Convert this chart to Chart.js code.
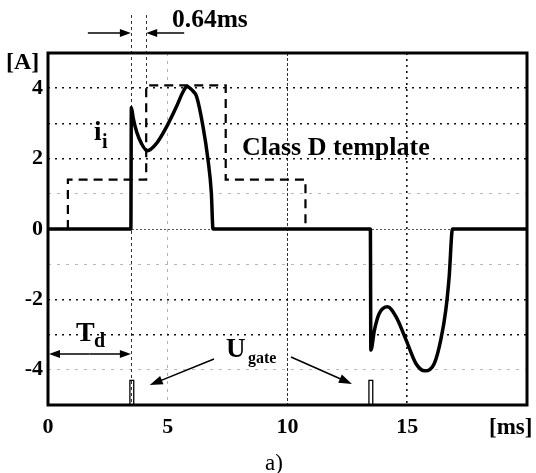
<!DOCTYPE html>
<html>
<head>
<meta charset="utf-8">
<script src="https://cdn.jsdelivr.net/npm/chart.js@4.4.1/dist/chart.umd.min.js"></script>
<style>
  html, body { margin: 0; padding: 0; background: #fff; }
  canvas { display: block; }
</style>
</head>
<body>
<canvas id="c" width="536" height="473"></canvas>
<script>
// Load current i_i [A] versus time [ms]
const currentTime  = [0, 3.46, 3.48, 3.56, 3.70, 3.90, 4.15, 4.53, 4.95, 5.36, 5.64, 5.80, 6.05, 6.20, 6.47, 6.68, 6.82, 6.89,
                      13.46, 13.48, 13.63, 13.83, 14.18, 14.53, 14.95, 15.36, 15.74, 16.13, 16.40, 16.61, 16.75, 16.89, 20];
const currentValue = [0, 0, 3.45, 3.14, 2.76, 2.43, 2.22, 2.43, 2.90, 3.47, 3.90, 4.05, 3.92, 3.77, 2.92, 1.97, 1.03, 0,
                      0, -3.44, -2.87, -2.40, -2.21, -2.49, -3.15, -3.82, -4.03, -3.82, -3.15, -2.30, -1.36, 0, 0];

// Class D limit template
const templateTime  = [0.83, 0.83, 4.10, 4.10, 7.42, 7.42, 10.75, 10.75];
const templateValue = [0, 1.4, 1.4, 4.08, 4.08, 1.4, 1.4, 0];

// Gate trigger pulses
const gateStart = [3.42, 13.40];
const gateWidth = 0.16;
const gateLevel = -4.3;
const gateFloor = -5;

// Firing delay and the 0.64 ms offset marker
const firingDelay = 3.46;
const markerOffset = 0.64;
const tdLevel = -3.55;

// Axis ticks
const xTicks = [0, 5, 10, 15];
const yTicks = [-4, -2, 0, 2, 4];

const currentPoints = currentTime.map((t, i) => ({ x: t, y: currentValue[i] }));
const templatePoints = templateTime.map((t, i) => ({ x: t, y: templateValue[i] }));
const gatePoints = [];
gateStart.forEach(t => {
  gatePoints.push({ x: t, y: gateFloor }, { x: t, y: gateLevel },
                  { x: t + gateWidth, y: gateLevel }, { x: t + gateWidth, y: gateFloor },
                  { x: t + gateWidth, y: null });
});

const SERIF = '"Liberation Serif", "Times New Roman", serif';

function arrow(ctx, x1, y1, x2, y2, len, half) {
  const ang = Math.atan2(y2 - y1, x2 - x1);
  ctx.beginPath();
  ctx.moveTo(x1, y1);
  ctx.lineTo(x2 - Math.cos(ang) * len * 0.8, y2 - Math.sin(ang) * len * 0.8);
  ctx.stroke();
  ctx.beginPath();
  ctx.moveTo(x2, y2);
  ctx.lineTo(x2 - Math.cos(ang) * len - Math.sin(ang) * half, y2 - Math.sin(ang) * len + Math.cos(ang) * half);
  ctx.lineTo(x2 - Math.cos(ang) * len + Math.sin(ang) * half, y2 - Math.sin(ang) * len - Math.cos(ang) * half);
  ctx.closePath();
  ctx.fill();
}

const gridStyleY = v => {
  if (v === 5 || v === -5) return { color: 'rgba(0,0,0,0)', dash: [], width: 1 };
  if (v === 0) return { color: '#555', dash: [2, 2], width: 1 };
  if ([4, 3, 2, -2, -3].includes(v)) return { color: '#111', dash: [2, 5], width: 1.6 };
  return { color: '#b8b8b8', dash: [3, 6], width: 1 };
};
const gridStyleX = v => {
  if (v === 0 || v === 20) return { color: 'rgba(0,0,0,0)', dash: [], width: 1 };
  if (v === 5) return { color: '#b0b0b0', dash: [3, 5], width: 1 };
  if (v === 10) return { color: '#333', dash: [3, 2], width: 1 };
  return { color: '#111', dash: [2, 4], width: 1.6 };
};

const annotations = {
  id: 'annotations',
  beforeDatasetsDraw(chart) {
    const { ctx, chartArea: a } = chart;
    const X = v => chart.scales.x.getPixelForValue(v);
    const Y = v => chart.scales.y.getPixelForValue(v);
    ctx.save();
    ctx.strokeStyle = '#333';
    ctx.lineWidth = 1;
    ctx.setLineDash([3, 3]);
    const x1 = Math.round(X(firingDelay)) + 0.5;
    const x2 = Math.round(X(firingDelay + markerOffset)) + 0.5;
    ctx.beginPath();
    ctx.moveTo(x1, 15); ctx.lineTo(x1, a.bottom);
    ctx.moveTo(x2, 15); ctx.lineTo(x2, Y(templateValue[3]));
    ctx.stroke();
    ctx.restore();
  },
  afterDraw(chart) {
    const { ctx, chartArea: a } = chart;
    const X = v => chart.scales.x.getPixelForValue(v);
    const Y = v => chart.scales.y.getPixelForValue(v);
    ctx.save();
    // plot frame
    ctx.strokeStyle = '#000';
    ctx.lineWidth = 3;
    ctx.setLineDash([]);
    ctx.strokeRect(a.left, a.top, a.right - a.left, a.bottom - a.top);

    ctx.fillStyle = '#000';
    ctx.lineWidth = 1.5;
    // 0.64 ms marker arrows
    const x1 = X(firingDelay), x2 = X(firingDelay + markerOffset);
    arrow(ctx, x1 - 43, 33, x1, 33, 11, 4);
    arrow(ctx, x2 + 38, 33, x2, 33, 11, 4);
    // T_d double arrow
    const yd = Y(tdLevel);
    arrow(ctx, (X(0) + x1) / 2, yd, X(0) + 1, yd, 11, 4);
    arrow(ctx, (X(0) + x1) / 2, yd, x1, yd, 11, 4);
    // U_gate arrows
    arrow(ctx, 214, 359, X(gateStart[0] + gateWidth) + 16, 385, 13, 4.5);
    arrow(ctx, 291, 357, X(gateStart[1]) - 17, 384, 13, 4.5);

    ctx.textBaseline = 'alphabetic';
    ctx.textAlign = 'left';
    ctx.font = 'bold 25.5px ' + SERIF;
    ctx.fillText('0.64ms', 172, 27);
    ctx.font = 'bold 24px ' + SERIF;
    ctx.fillText('[A]', 6, 69);
    ctx.font = 'bold 23px ' + SERIF;
    ctx.fillText('[ms]', 489, 434);
    // i_i
    ctx.font = 'bold 27px ' + SERIF;
    ctx.fillText('i', 94, 140);
    ctx.font = 'bold 20px ' + SERIF;
    ctx.fillText('i', 102, 148);
    // template label
    ctx.font = 'bold 26px ' + SERIF;
    ctx.fillText('Class D template', 242, 155);
    // T_d
    ctx.font = 'bold 28px ' + SERIF;
    ctx.fillText('T', 76, 341);
    ctx.font = 'bold 20px ' + SERIF;
    ctx.fillText('d', 94, 347);
    // U_gate
    ctx.font = 'bold 27px ' + SERIF;
    ctx.fillText('U', 226, 357);
    ctx.font = 'bold 16px ' + SERIF;
    ctx.fillText('gate', 248, 363);
    // caption
    ctx.font = '23px ' + SERIF;
    ctx.textAlign = 'center';
    ctx.fillText('a)', 274, 470);
    ctx.restore();
  }
};

new Chart(document.getElementById('c'), {
  type: 'line',
  data: {
    datasets: [
      {
        data: currentPoints,
        borderColor: '#000',
        borderWidth: 3.5,
        pointRadius: 0,
        cubicInterpolationMode: 'monotone',
        fill: false
      },
      {
        data: templatePoints,
        borderColor: '#000',
        borderWidth: 2.2,
        borderDash: [9, 6],
        pointRadius: 0,
        tension: 0,
        fill: false
      },
      {
        data: gatePoints,
        borderColor: '#000',
        borderWidth: 1.3,
        pointRadius: 0,
        tension: 0,
        spanGaps: false,
        fill: false
      }
    ]
  },
  options: {
    responsive: false,
    devicePixelRatio: 1,
    animation: false,
    layout: { padding: { top: 53, right: 8, left: 0, bottom: 0 } },
    plugins: { legend: { display: false }, tooltip: { enabled: false } },
    scales: {
      x: {
        type: 'linear',
        min: 0,
        max: 20,
        afterFit: s => { s.height = 68; },
        afterBuildTicks: s => { s.ticks = [0, 5, 10, 15, 20].map(v => ({ value: v })); },
        ticks: {
          autoSkip: false,
          maxRotation: 0,
          padding: 9,
          color: '#000',
          font: { family: SERIF, size: 22, weight: 'bold' },
          callback: v => (xTicks.includes(v) ? String(v) : '')
        },
        grid: {
          drawTicks: false,
          color: c => gridStyleX(c.tick ? c.tick.value : -1).color,
          lineWidth: c => gridStyleX(c.tick ? c.tick.value : -1).width
        },
        border: {
          display: false,
          dash: c => gridStyleX(c.tick ? c.tick.value : -1).dash
        }
      },
      y: {
        min: -5,
        max: 5,
        afterFit: s => { s.width = 48; },
        afterBuildTicks: s => {
          const t = [];
          for (let v = -5; v <= 5; v++) t.push({ value: v });
          s.ticks = t;
        },
        ticks: {
          autoSkip: false,
          padding: 5,
          color: '#000',
          font: { family: SERIF, size: 22, weight: 'bold' },
          callback: v => (yTicks.includes(v) ? String(v) : '')
        },
        grid: {
          drawTicks: false,
          color: c => gridStyleY(c.tick ? c.tick.value : 99).color,
          lineWidth: c => gridStyleY(c.tick ? c.tick.value : 99).width
        },
        border: {
          display: false,
          dash: c => gridStyleY(c.tick ? c.tick.value : 99).dash
        }
      }
    }
  },
  plugins: [annotations]
});
</script>
</body>
</html>
